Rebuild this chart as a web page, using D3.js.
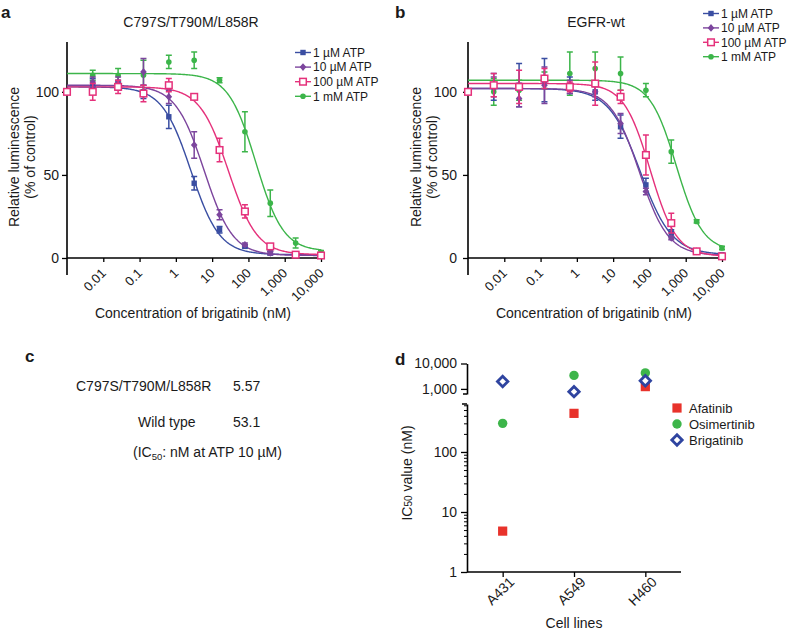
<!DOCTYPE html>
<html><head><meta charset="utf-8">
<script src="https://cdn.jsdelivr.net/npm/d3@7"></script>
<style>
body{margin:0;background:#fff}
text{font-family:"Liberation Sans",Arial,sans-serif;fill:#1a1a1a}
</style>
</head><body>
<svg id="c" width="788" height="631"></svg>
<script>
// ---------- data ----------
const doseConc = [0.001, 0.00512, 0.0256, 0.128, 0.64, 3.2, 16, 80, 400, 2000, 10000];
const doseTicks = [0.01, 0.1, 1, 10, 100, 1000, 10000];
const yTicksDose = [0, 50, 100];
const atpLabels = ["1 µM ATP", "10 µM ATP", "100 µM ATP", "1 mM ATP"];

// Panel a: C797S/T790M/L858R
const aBlue   = [100, 104, 104, 100, 85, 45, 17, 7, 3, 2, 1.5];
const aPurple = [100, 106, 106, 112, 97, 68, 26, 8, 3, 2, 1.5];
const aPink   = [100, 100, 103, 99, 104, 97, 65, 28, 7, 2, 1.5];
const aGreen  = [100, 110, 110, 110, 118, 119, 107, 76, 33, 9, 3.5];
const aBlueErr   = [0, 4, 3, 4, 7, 4, 2, 1, 1, 0.5, 0.5];
const aPurpleErr = [0, 3, 3, 8, 4, 8, 3, 1, 1, 0.5, 0.5];
const aPinkErr   = [0, 5, 4, 5, 4, 1, 7, 4, 1, 1, 0.5];
const aGreenErr  = [0, 3, 4, 9, 4, 5, 1.5, 12, 8, 3, 1];
const fitATop    = [103, 104, 103, 111];
const fitABottom = [2, 1.5, 2, 4];
const fitAIC50   = [2.6, 6, 28, 160];
const fitAHill   = [1.1, 1.1, 1.1, 1.15];

// Panel b: EGFR-wt
const bBlue   = [100, 103, 104, 107, 104, 100, 79, 44, 15, 4, 2];
const bPurple = [100, 103, 96, 104, 103, 100, 81, 40, 12, 4, 1.5];
const bPink   = [100, 104, 103, 108, 103, 105, 97, 62, 21, 4, 1];
const bGreen  = [100, 100, 101, 107, 111, 114, 111, 101, 64, 22, 6];
const bBlueErr   = [0, 8, 13, 13, 5, 5, 7, 4, 2, 1, 0.5];
const bPurpleErr = [0, 6, 5, 11, 4, 3, 6, 2, 1, 1, 0.5];
const bPinkErr   = [0, 7, 10, 6, 3, 13, 4, 12, 6, 1, 0.5];
const bGreenErr  = [0, 8, 6, 5, 13, 10, 10, 4, 7, 1, 1];
const fitBTop    = [102, 102, 105, 107];
const fitBBottom = [2, 1.5, 1, 4];
const fitBIC50   = [56, 53, 105, 550];
const fitBHill   = [1.0, 1.1, 1.2, 1.2];

// Panel c
const cLabels = ["C797S/T790M/L858R", "Wild type"];
const cValues = ["5.57", "53.1"];

// Panel d
const cellLines = ["A431", "A549", "H460"];
const drugNames = ["Afatinib", "Osimertinib", "Brigatinib"];
const afatinib    = [4.8, 440, 1230];
const osimertinib = [300, 3400, 4250];
const brigatinib  = [1950, 780, 2090];
const dLowTicks = [1, 10, 100];
const dHighTicks = [1000, 10000];

// ---------- styles ----------
const atpColors = ["#3a4ea2", "#7c459d", "#e5317b", "#3cb54a"];
const atpShapes = ["square", "diamond", "openSquare", "circle"];
const drugColors = ["#e8322b", "#3db54a", "#2f44a0"];
const drugShapes = ["bigSquare", "bigCircle", "openDiamond"];

const svg = d3.select("#c");
svg.append("rect").attr("width", 788).attr("height", 631).attr("fill", "#fff");

function marker(g, shape, color, cx, cy) {
  if (shape === "square") {
    g.append("rect").attr("x", cx - 2.7).attr("y", cy - 2.7).attr("width", 5.4).attr("height", 5.4).attr("fill", color);
  } else if (shape === "diamond") {
    g.append("path").attr("d", `M${cx},${cy-3.8}L${cx+3.3},${cy}L${cx},${cy+3.8}L${cx-3.3},${cy}Z`).attr("fill", color);
  } else if (shape === "openSquare") {
    g.append("rect").attr("x", cx - 3.3).attr("y", cy - 3.3).attr("width", 6.6).attr("height", 6.6)
      .attr("fill", "#fff").attr("stroke", color).attr("stroke-width", 1.5);
  } else if (shape === "circle") {
    g.append("circle").attr("cx", cx).attr("cy", cy).attr("r", 2.8).attr("fill", color);
  } else if (shape === "bigSquare") {
    g.append("rect").attr("x", cx - 4.6).attr("y", cy - 4.6).attr("width", 9.2).attr("height", 9.2).attr("fill", color);
  } else if (shape === "bigCircle") {
    g.append("circle").attr("cx", cx).attr("cy", cy).attr("r", 4.7).attr("fill", color);
  } else if (shape === "openDiamond") {
    g.append("path").attr("d", `M${cx},${cy-5.2}L${cx+5.2},${cy}L${cx},${cy+5.2}L${cx-5.2},${cy}Z`)
      .attr("fill", "#fff").attr("stroke", color).attr("stroke-width", 2.8);
  }
}

function dosePanel(o) {
  const g = svg.append("g");
  const x = d3.scaleLog().domain([0.001, 10000]).range([o.x0, o.x0 + 254]);
  const y = d3.scaleLinear().domain([0, 130]).range([258, 42]);

  // axes
  const xa = g.append("g").attr("transform", `translate(0,${y(0)})`)
    .call(d3.axisBottom(x).tickValues(doseTicks).tickFormat(d3.format(",")).tickSize(4).tickSizeOuter(0));
  xa.select(".domain").attr("stroke-width", 1.6).attr("d", `M${x(0.001)},0H${x(10000) + 1}`);
  xa.selectAll(".tick line").attr("stroke-width", 1.3);
  xa.selectAll("text").attr("x", 0).attr("y", 0).attr("dy", 0)
    .attr("text-anchor", "end").attr("transform", "translate(3,16) rotate(-45)")
    .style("font-size", "13px").style("font-family", "Liberation Sans, Arial, sans-serif").attr("fill", "#1a1a1a");

  const ya = g.append("g").attr("transform", `translate(${o.x0},0)`)
    .call(d3.axisLeft(y).tickValues(yTicksDose).tickSize(5).tickPadding(o.pad).tickSizeOuter(0));
  ya.select(".domain").attr("stroke-width", 1.6).attr("d", `M0,${y(130)}V${y(0) + 17}`);
  ya.selectAll(".tick line").attr("stroke-width", 1.3);
  ya.selectAll("text").style("font-size", "14px").style("font-family", "Liberation Sans, Arial, sans-serif").attr("fill", "#1a1a1a");

  // titles/labels
  g.append("text").attr("x", o.titleX).attr("y", 27).attr("text-anchor", "middle").style("font-size", "14px").text(o.title);
  g.append("text").attr("x", o.xlabX).attr("y", 318).attr("text-anchor", "middle").style("font-size", "14px").text("Concentration of brigatinib (nM)");
  g.append("text").attr("transform", `translate(${o.ylab1},157) rotate(-90)`).attr("text-anchor", "middle").style("font-size", "14px").text("Relative luminescence");
  g.append("text").attr("transform", `translate(${o.ylab2},157) rotate(-90)`).attr("text-anchor", "middle").style("font-size", "14px").text("(% of control)");
  g.append("text").attr("x", o.letterX).attr("y", 18).style("font-size", "17px").style("font-weight", "bold").text(o.letter);

  // curves
  const samples = d3.range(0, 301).map(i => Math.pow(10, -3 + 7 * i / 300));
  const line = d3.line().x(d => x(d[0])).y(d => y(d[1]));
  const order = [3, 0, 1, 2];
  order.forEach(s => {
    const pts = samples.map(c => [c, o.bottom[s] + (o.top[s] - o.bottom[s]) / (1 + Math.pow(c / o.ic50[s], o.hill[s]))]);
    g.append("path").attr("d", line(pts)).attr("fill", "none").attr("stroke", atpColors[s]).attr("stroke-width", 1.4);
  });
  // error bars and points
  order.forEach(s => {
    const vals = o.values[s], errs = o.errs[s];
    const sg = g.append("g");
    doseConc.forEach((c, i) => {
      const cx = x(c);
      if (errs[i] > 0.6) {
        sg.append("path").attr("d",
          `M${cx},${y(vals[i] - errs[i])}V${y(vals[i] + errs[i])}M${cx - 3},${y(vals[i] + errs[i])}H${cx + 3}M${cx - 3},${y(vals[i] - errs[i])}H${cx + 3}`)
          .attr("stroke", atpColors[s]).attr("stroke-width", 1.5).attr("fill", "none");
      }
    });
    doseConc.forEach((c, i) => marker(sg, atpShapes[s], atpColors[s], x(c), y(vals[i])));
  });

  // legend
  atpLabels.forEach((lab, i) => {
    const ly = o.legY + i * o.legStep;
    g.append("line").attr("x1", o.legX).attr("x2", o.legX + 16).attr("y1", ly).attr("y2", ly)
      .attr("stroke", atpColors[i]).attr("stroke-width", 1.4);
    marker(g, atpShapes[i], atpColors[i], o.legX + 8, ly);
    g.append("text").attr("x", o.legX + 18).attr("y", ly + 4.3).style("font-size", "12px").text(lab);
  });
}

dosePanel({x0: 67, pad: 3, title: "C797S/T790M/L858R", titleX: 191, xlabX: 193, ylab1: 19, ylab2: 35,
  letter: "a", letterX: 1,
  values: [aBlue, aPurple, aPink, aGreen], errs: [aBlueErr, aPurpleErr, aPinkErr, aGreenErr],
  top: fitATop, bottom: fitABottom, ic50: fitAIC50, hill: fitAHill,
  legX: 295, legY: 52.5, legStep: 14.6});

dosePanel({x0: 468, pad: 6, title: "EGFR-wt", titleX: 596, xlabX: 594, ylab1: 421, ylab2: 437,
  letter: "b", letterX: 395,
  values: [bBlue, bPurple, bPink, bGreen], errs: [bBlueErr, bPurpleErr, bPinkErr, bGreenErr],
  top: fitBTop, bottom: fitBBottom, ic50: fitBIC50, hill: fitBHill,
  legX: 703, legY: 13.5, legStep: 14.4});

// ---------- panel c ----------
const gc = svg.append("g");
gc.append("text").attr("x", 25).attr("y", 362).style("font-size", "17px").style("font-weight", "bold").text("c");
gc.append("text").attr("x", 76).attr("y", 391).style("font-size", "14px").text(cLabels[0]);
gc.append("text").attr("x", 233).attr("y", 391).style("font-size", "14px").text(cValues[0]);
gc.append("text").attr("x", 138).attr("y", 427).style("font-size", "14px").text(cLabels[1]);
gc.append("text").attr("x", 233).attr("y", 427).style("font-size", "14px").text(cValues[1]);
const ct = gc.append("text").attr("x", 133).attr("y", 457).style("font-size", "14px");
ct.append("tspan").text("(IC");
ct.append("tspan").attr("dy", 3).style("font-size", "9.5px").text("50");
ct.append("tspan").attr("dy", -3).text(": nM at ATP 10 µM)");

// ---------- panel d ----------
const gd = svg.append("g");
const xd = d3.scalePoint().domain(cellLines).range([467, 681]).padding(0.5);
const yLow = d3.scaleLog().domain([1, 630]).range([572, 404]);
const yHigh = d3.scaleLog().domain([630, 10000]).range([394, 363.5]);
const yd = v => v > 630 ? yHigh(v) : yLow(v);

const xda = gd.append("g").attr("transform", `translate(0,572)`)
  .call(d3.axisBottom(xd).tickSize(5).tickSizeOuter(0));
xda.select(".domain").attr("stroke-width", 1.6).attr("d", `M467,0H681`);
xda.selectAll(".tick line").attr("stroke-width", 1.3);
xda.selectAll("text").attr("x", 0).attr("y", 0).attr("dy", 0).attr("text-anchor", "end")
  .attr("transform", "translate(12,11) rotate(-45)")
  .style("font-size", "14px").style("font-family", "Liberation Sans, Arial, sans-serif").attr("fill", "#1a1a1a");

const minor = yLow.ticks(30).filter(v => v <= 630);
const yla = gd.append("g").attr("transform", "translate(467,0)")
  .call(d3.axisLeft(yLow).tickValues(minor).tickSize(3).tickFormat(() => "").tickSizeOuter(0));
yla.select(".domain").attr("stroke-width", 1.6);
yla.selectAll(".tick line").attr("stroke-width", 1);
const ylb = gd.append("g").attr("transform", "translate(467,0)")
  .call(d3.axisLeft(yLow).tickValues(dLowTicks).tickSize(6).tickPadding(4).tickFormat(d3.format(",")).tickSizeOuter(0));
ylb.select(".domain").remove();
ylb.selectAll(".tick line").attr("stroke-width", 1.3);
ylb.selectAll("text").style("font-size", "14px").style("font-family", "Liberation Sans, Arial, sans-serif").attr("fill", "#1a1a1a");
const yha = gd.append("g").attr("transform", "translate(467,0)")
  .call(d3.axisLeft(yHigh).tickValues(dHighTicks).tickSize(6).tickPadding(4).tickFormat(d3.format(",")).tickSizeOuter(0));
yha.select(".domain").attr("stroke-width", 1.6);
yha.selectAll(".tick line").attr("stroke-width", 1.3);
yha.selectAll("text").style("font-size", "14px").style("font-family", "Liberation Sans, Arial, sans-serif").attr("fill", "#1a1a1a");
// break stubs
gd.append("path").attr("d", `M467,${yHigh(630)}h-4M467,${yLow(630)}h-5`).attr("stroke", "#000").attr("stroke-width", 1.3);

gd.append("text").attr("x", 395).attr("y", 365).style("font-size", "17px").style("font-weight", "bold").text("d");
gd.append("text").attr("x", 574).attr("y", 628).attr("text-anchor", "middle").style("font-size", "14px").text("Cell lines");
const ylab = gd.append("text").attr("transform", "translate(412,473) rotate(-90)").attr("text-anchor", "middle").style("font-size", "14px");
ylab.append("tspan").text("IC");
ylab.append("tspan").style("font-size", "10px").text("50");
ylab.append("tspan").text(" value (nM)");

[afatinib, osimertinib, brigatinib].forEach((vals, s) => {
  vals.forEach((v, i) => marker(gd, drugShapes[s], drugColors[s], xd(cellLines[i]), yd(v)));
});
drugNames.forEach((n, i) => {
  const ly = 408 + i * 16;
  marker(gd, drugShapes[i], drugColors[i], 677, ly);
  gd.append("text").attr("x", 689).attr("y", ly + 4.5).style("font-size", "13px").text(n);
});
</script>
</body></html>
